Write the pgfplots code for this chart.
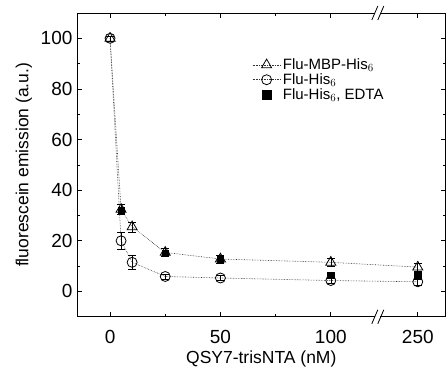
\documentclass[border=0pt]{standalone}
\usepackage{fontspec}
\setmainfont{Liberation Sans}
\usepackage{pgfplots}
\pgfplotsset{compat=1.18}
\begin{document}
\begin{tikzpicture}
\begin{axis}[
 scale only axis, width=369pt, height=304pt,
 xmin=-15, xmax=152, ymin=-10, ymax=110,
 xtick={0,50,100,139.4}, xticklabels={0,50,100,250},
 minor xtick={25,75},
 ytick={0,20,...,100}, minor ytick={10,30,...,90},
 tick align=inside, major tick length=5pt, minor tick length=3pt,
 tick style={black, line width=0.7pt},
 axis line style={line width=0.8pt},
 ticklabel style={font=\fontsize{19}{21}\selectfont},
 xticklabel style={yshift=-10pt},
 yticklabel style={xshift=-1pt},
 /pgf/number format/assume math mode=true,
 xlabel={QSY7-trisNTA (nM)}, ylabel={fluorescein emission (a.u.)},
 label style={font=\fontsize{17.5}{20}\selectfont},
 xlabel style={yshift=0pt},
 ylabel style={yshift=2pt},
 clip=false,
 legend style={draw=none, fill=none, at={(axis cs:63,93.6)}, anchor=north west,
   font=\fontsize{15}{16}\selectfont, row sep=-1.5pt},
 legend cell align=left,
 legend image code/.code={\path[draw=none,fill=none] (0pt,-6pt) rectangle (28pt,6pt);\draw[mark repeat=2,mark phase=2,#1] plot coordinates {(0pt,0pt) (14pt,0pt) (28pt,0pt)};},
 x filter/.expression={x>120 ? x-110.6 : x},
]
\addplot[only marks, mark=square*, mark size=3.2pt, mark options={black}, forget plot]
 table[x=x, y=y] {
 x y
 5 32
 25 15
 50 12.5
 100 6.3
 250 6.4
 };
\addplot[black!80, densely dotted, line width=0.6pt,
  mark=triangle, mark size=5.8pt, mark options={solid, black, line width=0.8pt},
  error bars/.cd, y dir=both, y explicit, error bar style={solid, black, line width=0.6pt}, error mark options={rotate=90, mark size=4pt, solid, black}]
 table[x=x, y=y, y error=e] {
 x y e
 0 100 1
 5 32.4 2
 10 25.5 2
 25 15.4 1.5
 50 12.8 1.5
 100 11.5 1.5
 250 9.6 1.5
 };
\addlegendentry{Flu-MBP-His$_6$}
\addplot[black!80, densely dotted, line width=0.6pt,
  mark=o, mark size=5pt, mark options={solid, black, fill=white, line width=0.8pt},
  error bars/.cd, y dir=both, y explicit, error bar style={solid, black, line width=0.6pt}, error mark options={rotate=90, mark size=4pt, solid, black}]
 table[x=x, y=y, y error=e] {
 x y e
 0 100 1
 5 20 3.3
 10 11.5 2.9
 25 5.9 1
 50 5.3 1
 100 4.3 1.2
 250 3.8 1.2
 };
\addlegendentry{Flu-His$_6$}
\addlegendimage{only marks, mark=square*, mark size=4.3pt, black, yshift=2pt}
\addlegendentry[yshift=2pt]{Flu-His$_6$, EDTA}
\coordinate (bt) at (axis cs:121.3,110);
\coordinate (bb) at (axis cs:121.3,-10);
\end{axis}
\foreach \c in {bt,bb}{
 \fill[white] ([xshift=-2.5pt,yshift=-1.5pt]\c) rectangle ([xshift=2.5pt,yshift=1.5pt]\c);
 \draw[black, line width=0.8pt] ([xshift=-6pt,yshift=-7pt]\c) -- ([xshift=0pt,yshift=7pt]\c);
 \draw[black, line width=0.8pt] ([xshift=0pt,yshift=-7pt]\c) -- ([xshift=6pt,yshift=7pt]\c);
}
\pgfresetboundingbox
\path[use as bounding box] (-77pt,-56pt) rectangle (369.4pt,317pt);
\end{tikzpicture}
\end{document}
